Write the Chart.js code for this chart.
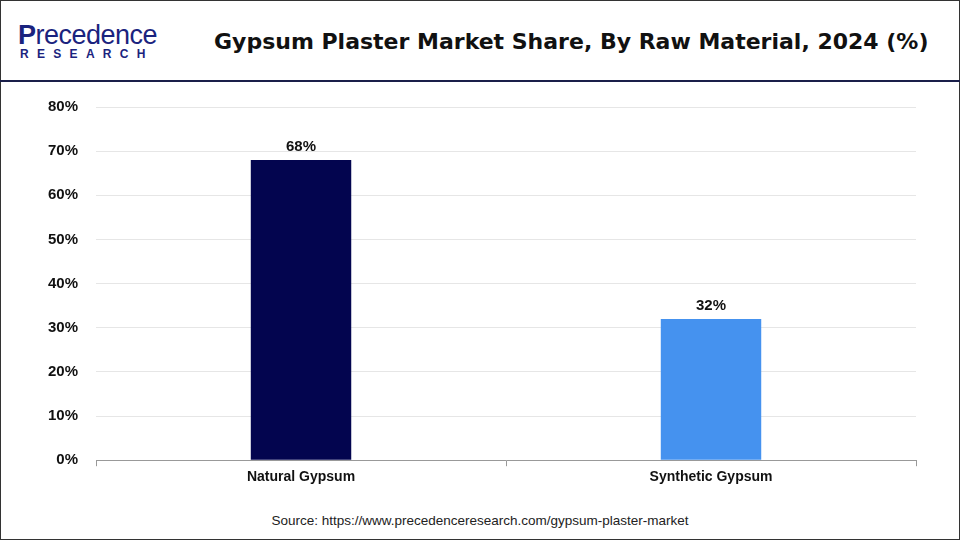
<!DOCTYPE html>
<html><head><meta charset="utf-8">
<script src="https://cdn.jsdelivr.net/npm/chart.js@4"></script>
<style>
body{margin:0;width:960px;height:540px;background:#fff;font-family:Arial,"Liberation Sans",sans-serif;position:relative;overflow:hidden}
#frame{position:absolute;left:0;top:0;width:958px;height:538px;border:1px solid #333}
#hdr{position:absolute;left:0;top:0;width:960px;height:80px;border-bottom:2px solid #1a1f4a}
#logo1{position:absolute;left:18px;top:20px;font-size:27px;color:#1a237e;font-family:"Liberation Sans",Arial;letter-spacing:-0.5px}
#logo2{position:absolute;left:20px;top:47px;font-size:12px;font-weight:bold;color:#1a237e;letter-spacing:8.3px}
#title{position:absolute;left:214px;top:29px;font-size:22px;font-weight:bold;color:#111;white-space:nowrap;font-family:"DejaVu Sans"}
#src{position:absolute;left:0;width:960px;top:513px;text-align:center;font-size:13.5px;color:#222}
#wrap{position:absolute;left:30px;top:80px;width:898px;height:409px}
</style></head><body>
<div id="frame"></div>
<div id="hdr"></div>
<div id="logo1"><b>P</b>recedence</div>
<div id="logo2">RESEARCH</div>
<div id="title">Gypsum Plaster Market Share, By Raw Material, 2024 (%)</div>
<div id="wrap"><canvas id="c"></canvas></div>
<div id="src">Source: https://www.precedenceresearch.com/gypsum-plaster-market</div>
<script>
const categories=["Natural Gypsum","Synthetic Gypsum"];
const values=[68,32];
const colors=["#03054f","#4592ef"];
const ticks=[0,10,20,30,40,50,60,70,80];
new Chart(document.getElementById('c'),{
type:'bar',
data:{labels:categories,datasets:[{data:values,backgroundColor:colors,barPercentage:0.5,categoryPercentage:0.49}]},
options:{responsive:true,maintainAspectRatio:false,animation:false,
layout:{padding:{top:0,right:12}},
plugins:{legend:{display:false},tooltip:{enabled:false}},
scales:{
x:{grid:{display:true,drawOnChartArea:false,tickLength:6,color:'#999'},border:{color:'#999'},
ticks:{color:'#111',font:{size:14,weight:'bold',family:'Arial'}}},
y:{min:0,max:80,afterBuildTicks:a=>{a.ticks=ticks.map(v=>({value:v}))},
grid:{color:'#e6e6e6',drawTicks:false},border:{display:false},
ticks:{padding:18,color:'#111',font:{size:15,weight:'bold',family:'Arial'},callback:v=>v+'%'}}}},
plugins:[{id:'lbl',afterDatasetsDraw(ch){const ctx=ch.ctx;ctx.save();ctx.font='bold 15px Arial';ctx.fillStyle='#111';ctx.textAlign='center';
ch.getDatasetMeta(0).data.forEach((b,i)=>ctx.fillText(values[i]+'%',b.x,b.y-9));ctx.restore();}}]
});
</script></body></html>
